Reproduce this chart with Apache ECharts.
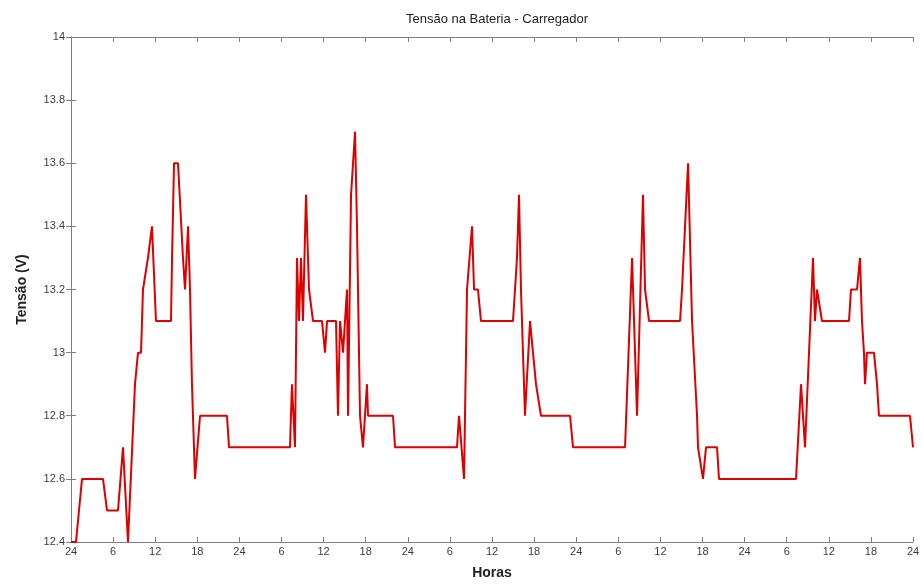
<!DOCTYPE html>
<html>
<head>
<meta charset="utf-8">
<script src="https://cdn.jsdelivr.net/npm/echarts@6/dist/echarts.min.js"></script>
<style>
  html, body { margin: 0; padding: 0; background: #fff; }
  #chart { width: 923px; height: 587px; }
</style>
</head>
<body>
<div id="chart"></div>
<script>
// horas desde o inicio (5 dias) e tensao
const horas = [
  0, 0.71, 1.57, 4.56, 5.13, 6.7, 7.41, 8.12, 9.12, 9.55, 9.98, 10.26, 10.97, 11.54, 12.11,
  14.25, 14.4, 14.68, 15.25, 15.96, 16.25, 16.68, 16.96, 17.24, 17.67, 18.39, 22.23, 22.52,
  31.21, 31.49, 31.92, 32.21, 32.49, 32.78, 33.06, 33.49, 33.92, 34.49, 35.77, 36.2, 36.49,
  37.77, 38.05, 38.34, 38.77, 39.05, 39.34, 39.48, 39.91, 40.48, 40.76, 41.19, 41.61, 42.18,
  42.33, 45.89, 46.18,
  55.01, 55.3, 56.01, 56.44, 57.15, 57.44, 58.0, 58.43, 62.99, 63.28, 63.56, 63.85, 64.13,
  64.7, 65.42, 65.84, 66.27, 66.98, 71.12, 71.55,
  78.96, 79.96, 80.67, 81.52, 81.81, 82.38, 86.8, 87.08, 87.94, 88.51, 89.22, 89.36, 90.07,
  90.5, 92.07, 92.35,
  103.33, 104.04, 104.61, 105.75, 106.03, 106.32, 106.6, 107.03, 110.88, 111.16, 112.02,
  112.44, 112.73, 113.01, 113.16, 113.44, 114.44, 114.87, 115.15, 119.57, 120
]
const tensao = [
  12.4, 12.4, 12.6, 12.6, 12.5, 12.5, 12.7, 12.4, 12.9, 13.0, 13.0, 13.2, 13.3, 13.4, 13.1,
  13.1, 13.3, 13.6, 13.6, 13.3, 13.2, 13.4, 13.2, 12.9, 12.6, 12.8, 12.8, 12.7,
  12.7, 12.9, 12.7, 13.3, 13.1, 13.3, 13.1, 13.5, 13.2, 13.1, 13.1, 13.0, 13.1,
  13.1, 12.8, 13.1, 13.0, 13.1, 13.2, 12.8, 13.5, 13.7, 13.4, 12.8, 12.7, 12.9,
  12.8, 12.8, 12.7,
  12.7, 12.8, 12.6, 13.2, 13.4, 13.2, 13.2, 13.1, 13.1, 13.2, 13.3, 13.5, 13.2,
  12.8, 13.1, 13.0, 12.9, 12.8, 12.8, 12.7,
  12.7, 13.3, 12.8, 13.5, 13.2, 13.1, 13.1, 13.2, 13.6, 13.1, 12.8, 12.7, 12.6,
  12.7, 12.7, 12.6,
  12.6, 12.9, 12.7, 13.3, 13.1, 13.2, 13.2, 13.1, 13.1, 13.2, 13.2,
  13.3, 13.1, 13.0, 12.9, 13.0, 13.0, 12.9, 12.8, 12.8, 12.7
]

const gridLine = '#7f7f7f'
const labelColor = '#3c3c3c'

const points = horas.map((h, i) => [h, tensao[i]])

const axisCommon = {
  axisLine: { show: true, lineStyle: { color: gridLine, width: 1 } },
  axisTick: { show: true, inside: true, length: 5, lineStyle: { color: gridLine } },
  splitLine: { show: false },
}

const option = {
  animation: false,
  backgroundColor: '#fff',
  textStyle: { fontFamily: 'Liberation Sans, Arial, sans-serif' },
  title: {
    text: 'Tensão na Bateria - Carregador',
    left: 492,
    textAlign: 'center',
    top: 8,
    textStyle: { fontSize: 13, fontWeight: 'normal', color: '#222' },
  },
  grid: { left: 71, right: 10, top: 37, bottom: 45 },
  xAxis: [
    {
      type: 'value',
      min: 0,
      max: 120,
      interval: 6,
      name: 'Horas',
      nameLocation: 'middle',
      nameGap: 24,
      nameTextStyle: { fontSize: 14, fontWeight: 'bold', color: '#222' },
      axisLabel: {
        color: labelColor,
        fontSize: 11,
        margin: 4,
        formatter: (v) => (v % 24 === 0 ? '24' : String(v % 24)),
      },
      ...axisCommon,
    },
    {
      type: 'value',
      position: 'top',
      min: 0,
      max: 120,
      interval: 6,
      axisLabel: { show: false },
      ...axisCommon,
    },
  ],
  yAxis: [
    {
      type: 'value',
      min: 12.4,
      max: 14,
      interval: 0.2,
      name: 'Tensão (V)',
      nameLocation: 'middle',
      nameGap: 42,
      nameTextStyle: { fontSize: 14, fontWeight: 'bold', color: '#222' },
      axisLabel: {
        color: labelColor,
        fontSize: 11,
        margin: 6,
        formatter: (v) => String(parseFloat(v.toFixed(1))),
      },
      ...axisCommon,
    },
    {
      type: 'value',
      position: 'right',
      min: 12.4,
      max: 14,
      interval: 0.2,
      axisLabel: { show: false },
      ...axisCommon,
    },
  ],
  series: [
    {
      type: 'line',
      data: points,
      showSymbol: false,
      symbol: 'none',
      lineStyle: { color: '#dd0000', width: 2 },
      clip: true,
    },
  ],
}

const c = echarts.init(document.getElementById('chart'))
c.setOption(option)
</script>
</body>
</html>
